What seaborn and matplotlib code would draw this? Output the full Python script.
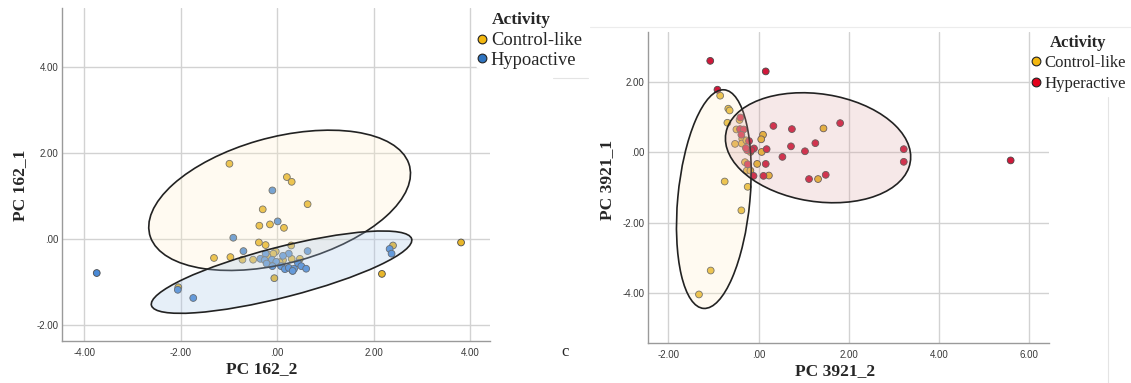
import numpy as np
import pandas as pd
import matplotlib
matplotlib.use("Agg")
import matplotlib.pyplot as plt
import seaborn as sns
from matplotlib.patches import Ellipse
from matplotlib.lines import Line2D
from matplotlib.ticker import FuncFormatter

# ---------------- data ----------------
# Panel PC 162 : Control-like
ctl162_x = [-0.99, 0.20, 0.30, 0.63, -0.30, -0.37, -0.15, 0.14, -0.38, -0.24, 0.29,
            -1.31, -0.97, -0.72, -0.50, -0.03, -0.17, -0.08, 0.30, 0.47, 0.12, -0.06,
            0.32, 2.40, 2.17, 3.81, -2.05, -0.20, 0.05]
ctl162_y = [1.74, 1.43, 1.32, 0.80, 0.68, 0.30, 0.33, 0.25, -0.09, -0.15, -0.16,
            -0.45, -0.43, -0.49, -0.49, -0.30, -0.38, -0.35, -0.47, -0.47, -0.50, -0.92,
            -0.75, -0.16, -0.82, -0.09, -1.13, -0.42, -0.55]
# Panel PC 162 : Hypoactive
hypo_x = [-0.10, 0.01, -0.91, -0.70, 0.63, -0.24, 0.24, 0.12, -0.35, -0.26, -0.11,
          -0.02, -0.22, -0.10, 0.08, 0.16, 0.24, 0.35, 0.32, 0.43, 0.50, 0.60,
          2.33, 2.37, -2.06, -1.74, -3.74]
hypo_y = [1.12, 0.40, 0.02, -0.29, -0.29, -0.35, -0.35, -0.40, -0.47, -0.50, -0.49,
          -0.54, -0.58, -0.64, -0.64, -0.71, -0.68, -0.70, -0.75, -0.57, -0.64, -0.70,
          -0.24, -0.35, -1.19, -1.38, -0.80]
# Panel PC 3921 : Control-like
ctl3921_x = [-0.85, -0.67, -0.64, -0.69, -0.42, -0.49, -0.52, -0.36, -0.37, -0.27,
             0.10, 0.06, 1.44, -0.18, 0.07, -0.03, -0.30, -0.26, -0.18, 0.23, 1.32,
             -0.75, -0.24, -0.38, -1.06, -1.32]
ctl3921_y = [1.61, 1.24, 1.19, 0.84, 0.92, 0.65, 0.24, 0.38, 0.25, 0.34,
             0.50, 0.37, 0.68, 0.01, 0.01, -0.33, -0.28, -0.52, -0.52, -0.66, -0.76,
             -0.83, -0.98, -1.65, -3.36, -4.04]
# Panel PC 3921 : Hyperactive
hyper_x = [-1.07, 0.16, -0.91, -0.40, -0.41, -0.33, -0.38, 0.33, 0.74, 1.81, 1.26,
           0.72, 1.03, 0.53, 0.18, -0.21, -0.10, -0.25, -0.16, -0.24, 0.16, -0.11,
           0.11, 1.12, 1.49, 3.22, 3.22, 5.59, -0.28]
hyper_y = [2.60, 2.30, 1.78, 0.99, 0.66, 0.65, 0.50, 0.75, 0.66, 0.83, 0.26,
           0.17, 0.03, -0.13, 0.09, 0.32, 0.11, 0.06, 0.06, -0.34, -0.33, -0.67,
           -0.67, -0.76, -0.64, 0.09, -0.27, -0.23, 0.12]

# group ellipses: centre x, centre y, width, height, angle (data units)
ell_ctl162 = [0.05, 0.89, 5.62, 2.91, 17.8]
ell_hypo162 = [0.09, -0.78, 5.61, 1.16, 16.1]
ell_ctl3921 = [-0.99, -1.33, 6.23, 1.60, 85.9]
ell_hyper3921 = [1.32, 0.13, 4.18, 3.03, -15.6]

tick_162_x = [-4, -2, 0, 2, 4]
tick_162_y = [-2, 0, 2, 4]
tick_3921_x = [-2, 0, 2, 4, 6]
tick_3921_y = [-4, -2, 0, 2]

# ---------------- style ----------------
sns.set_style("white")
plt.rcParams["font.family"] = ["Liberation Serif", "DejaVu Serif"]

W, H = 1131, 383
fig = plt.figure(figsize=(W / 100, H / 100), dpi=100)

YEL = "#E8B62A"
BLU = "#4A8AD6"
RED = "#D0183A"
EDGE = "#4a4a4a"

def px_axes(l, t, r, b):
    return fig.add_axes([l / W, 1 - b / H, (r - l) / W, (b - t) / H])

def fmt(v, pos):
    if abs(v) < 1e-9:
        return ".00"
    return f"{v:.2f}"

def style_axes(ax, xt, yt, xlim, ylim):
    ax.set_xlim(*xlim)
    ax.set_ylim(*ylim)
    ax.set_xticks(xt)
    ax.set_yticks(yt)
    ax.xaxis.set_major_formatter(FuncFormatter(fmt))
    ax.yaxis.set_major_formatter(FuncFormatter(fmt))
    ax.grid(True, color="#d2d2d2", lw=1.0)
    ax.set_axisbelow(True)
    for s in ["top", "right"]:
        ax.spines[s].set_visible(False)
    for s in ["left", "bottom"]:
        ax.spines[s].set_color("#9a9a9a")
        ax.spines[s].set_linewidth(1.0)
    ax.tick_params(axis="both", length=0, labelsize=7, labelcolor="#3a3a3a")
    ax.tick_params(axis="x", pad=5)
    ax.tick_params(axis="y", pad=2.5)
    for lab in ax.get_xticklabels() + ax.get_yticklabels():
        lab.set_fontfamily("Liberation Sans")

def add_ellipse(ax, p, fc, alpha):
    e = Ellipse((p[0], p[1]), p[2], p[3], angle=p[4], transform=ax.transData,
                facecolor=matplotlib.colors.to_rgba(fc, alpha),
                edgecolor="#222222", lw=1.2, zorder=5)
    ax.add_patch(e)

# ---------------- left panel ----------------
ax1 = px_axes(62, 8, 490, 341)
df1 = pd.DataFrame({
    "x": ctl162_x + hypo_x,
    "y": ctl162_y + hypo_y,
    "Activity": ["Control-like"] * len(ctl162_x) + ["Hypoactive"] * len(hypo_x),
})
sns.scatterplot(data=df1, x="x", y="y", hue="Activity",
                palette={"Control-like": YEL, "Hypoactive": BLU},
                s=24, edgecolor=EDGE, linewidth=0.6, legend=False, ax=ax1, zorder=3)
add_ellipse(ax1, ell_ctl162, "#FFEFC8", 0.25)
add_ellipse(ax1, ell_hypo162, "#A8C6E8", 0.28)
style_axes(ax1, tick_162_x, tick_162_y, (-4.46, 4.41), (-2.38, 5.36))
ax1.set_xlabel("PC 162_2", fontsize=12.5, fontweight="bold", family="Liberation Serif")
ax1.set_ylabel("PC 162_1", fontsize=12.5, fontweight="bold", family="Liberation Serif")
ax1.xaxis.set_label_coords((262 - 62) / 428, -(361 - 341) / 333)
ax1.yaxis.set_label_coords(-(62 - 28) / 428, (341 - 185) / 333)

# ---------------- right panel ----------------
ax2 = px_axes(648, 32, 1049, 343)
df2 = pd.DataFrame({
    "x": ctl3921_x + hyper_x,
    "y": ctl3921_y + hyper_y,
    "Activity": ["Control-like"] * len(ctl3921_x) + ["Hyperactive"] * len(hyper_x),
})
sns.scatterplot(data=df2, x="x", y="y", hue="Activity",
                palette={"Control-like": YEL, "Hyperactive": RED},
                s=24, edgecolor=EDGE, linewidth=0.6, legend=False, ax=ax2, zorder=3)
add_ellipse(ax2, ell_ctl3921, "#FFEFC8", 0.25)
add_ellipse(ax2, ell_hyper3921, "#D99A9A", 0.22)
style_axes(ax2, tick_3921_x, tick_3921_y, (-2.45, 6.44), (-5.42, 3.42))
ax2.set_xlabel("PC 3921_2", fontsize=12.5, fontweight="bold", family="Liberation Serif")
ax2.set_ylabel("PC 3921_1", fontsize=12.5, fontweight="bold", family="Liberation Serif")
ax2.xaxis.set_label_coords((835 - 648) / 401, -(363 - 343) / 311)
ax2.yaxis.set_label_coords(-(648 - 615) / 401, (343 - 180) / 311)

# ---------------- legends ----------------
def legend(x_px, y_px, labels, colors, size, spacing):
    handles = [Line2D([], [], marker="o", ls="none", markersize=6.3,
                      markerfacecolor=c, markeredgecolor="#222222", markeredgewidth=0.8)
               for c in colors]
    leg = fig.legend(handles, labels, loc="upper left",
                     bbox_to_anchor=(x_px / W, 1 - y_px / H), bbox_transform=fig.transFigure,
                     frameon=True, facecolor="white", edgecolor="none", framealpha=1,
                     handlelength=0.6, handletextpad=0.2, borderpad=0.0,
                     labelspacing=spacing, borderaxespad=0,
                     prop={"family": "Liberation Serif", "size": size})
    return leg

fig.text(492 / W, 1 - 20 / H, "Activity", fontsize=12.5, fontweight="bold",
         family="Liberation Serif", va="center", ha="left")
legend(476, 32, ["Control-like", "Hypoactive"], ["#F3B70F", "#2F74C0"], 13.3, 0.14)
fig.text(1050 / W, 1 - 43 / H, "Activity", fontsize=12, fontweight="bold",
         family="Liberation Serif", va="center", ha="left")
legend(1031, 55, ["Control-like", "Hyperactive"], ["#F3B70F", "#E3001B"], 12.1, 0.28)

# panel letter and faint frame lines
fig.text(565 / W, 1 - 352 / H, "c", fontsize=12, family="Liberation Serif",
         va="center", ha="center")
fig.add_artist(Line2D([590 / W, 1], [1 - 27 / H] * 2, color="#ececec", lw=0.8,
                      transform=fig.transFigure))
fig.add_artist(Line2D([553 / W, 588 / W], [1 - 78 / H] * 2, color="#e4e4e4", lw=0.8,
                      transform=fig.transFigure))
fig.add_artist(Line2D([1108 / W] * 2, [0, 1 - 97 / H], color="#e4e4e4", lw=0.8,
                      transform=fig.transFigure))

fig.savefig("out.png", dpi=100, facecolor="white")
